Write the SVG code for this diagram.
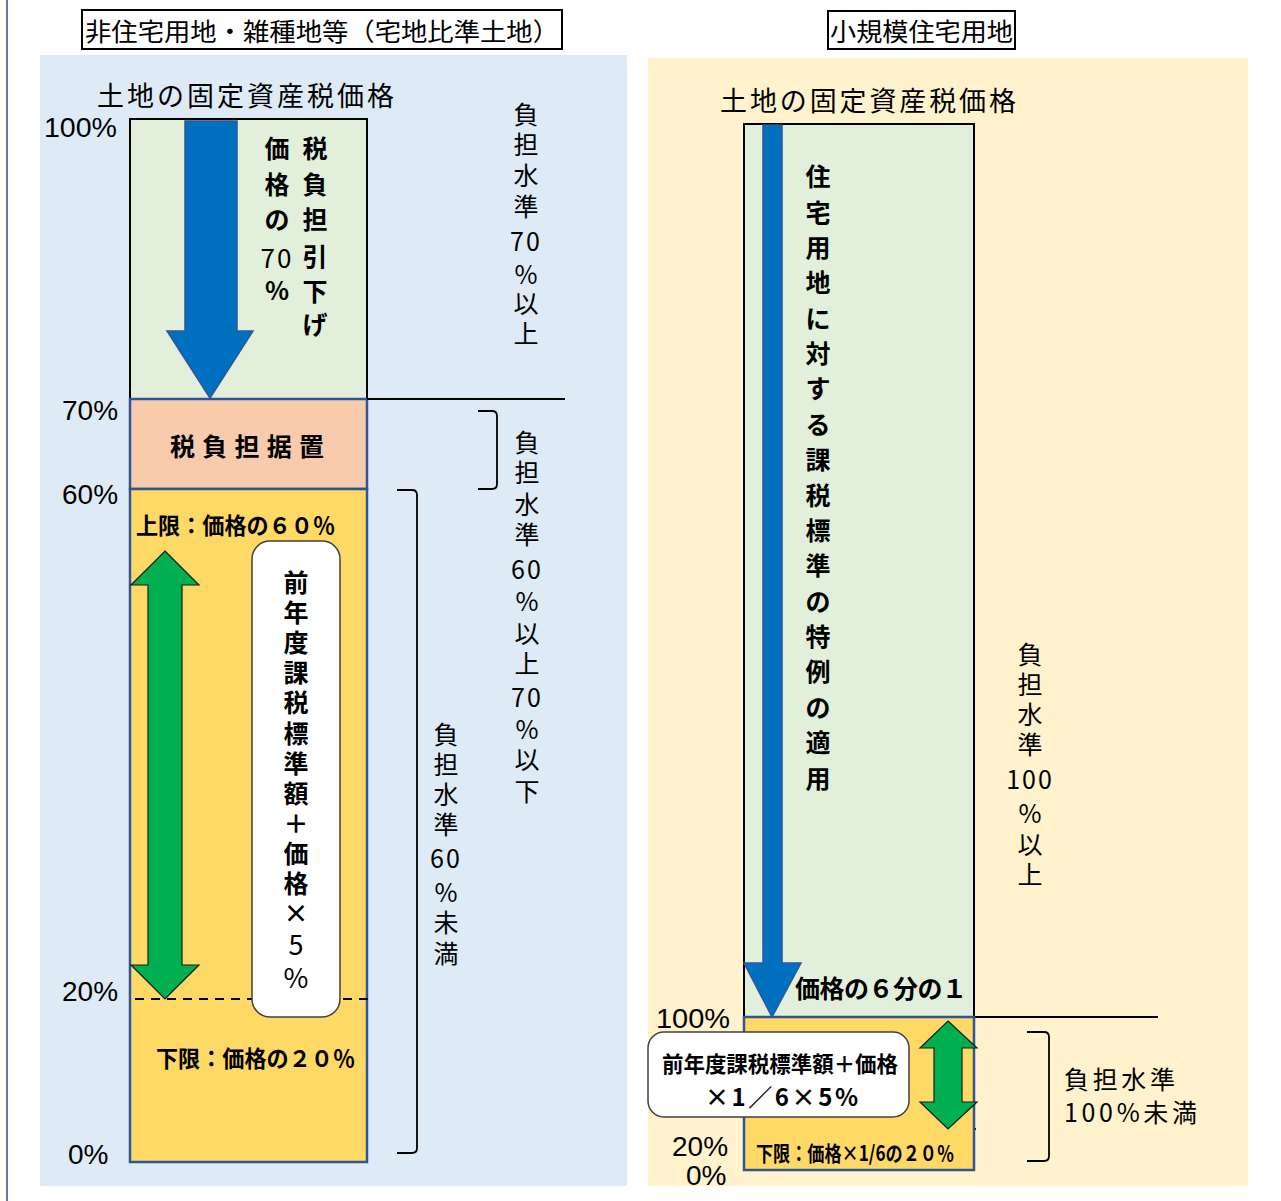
<svg xmlns="http://www.w3.org/2000/svg" width="1281" height="1201" viewBox="0 0 1281 1201">
<style>
.jp{font-family:"Noto Sans CJK JP","Noto Sans",sans-serif;fill:#000;dominant-baseline:central}
.b{font-weight:bold}
.n{font-weight:normal}
.v{font-size:25px;text-anchor:middle}
.pct{font-family:"Liberation Sans",Arial,sans-serif;font-size:28px;fill:#000;dominant-baseline:central}
.ttl{font-size:25px}
.sep{stroke:#000;stroke-width:2;fill:none}
.brk{stroke:#000;stroke-width:1.8;fill:none}
.dash{stroke:#000;stroke-width:2;stroke-dasharray:9 7;fill:none}
.gbox{fill:#E2EFDA;stroke:#000;stroke-width:2}
.ybox{fill:#FFD966;stroke:#2F5597;stroke-width:2.5}
.pbox{fill:#F8CBAD;stroke:#2F5597;stroke-width:2.5}
.wbox{fill:#fff;stroke:#404040;stroke-width:1.5}
.barrow{fill:#0070C0;stroke:#2F5597;stroke-width:1.5}
.garrow{fill:#00B050;stroke:#1a1a1a;stroke-width:1.2}
</style>
<rect x="0" y="0" width="1281" height="1201" fill="#fff"/>
<line x1="7" y1="0" x2="7" y2="1201" stroke="#5B7BAF" stroke-width="2"/>

<g id="left-panel">
<rect x="40" y="55" width="587" height="1131" fill="#DEEBF7"/>
</g>
<g id="right-panel">
<rect x="648" y="58" width="600" height="1128" fill="#FFF2CC"/>
</g>

<g id="left-title">
<rect x="82" y="10" width="480" height="39" fill="#fff" stroke="#000" stroke-width="2"/>
<text class="jp ttl" x="85" y="30" textLength="474" lengthAdjust="spacingAndGlyphs">非住宅用地・雑種地等（宅地比準土地）</text>
</g>
<g id="right-title">
<rect x="828" y="11" width="187" height="38" fill="#fff" stroke="#000" stroke-width="2"/>
<text class="jp ttl" x="830" y="30" textLength="183" lengthAdjust="spacingAndGlyphs">小規模住宅用地</text>
</g>

<g id="left-heading"><text class="jp" x="97" y="94" font-size="27" textLength="297" lengthAdjust="spacing">土地の固定資産税価格</text></g>
<g id="right-heading"><text class="jp" x="720" y="99" font-size="27" textLength="296" lengthAdjust="spacing">土地の固定資産税価格</text></g>

<g id="left-green">
<rect class="gbox" x="130" y="119" width="237" height="280"/>
</g>
<g id="left-pink">
<rect class="pbox" x="130" y="399" width="237" height="90"/>
<text class="jp b" x="170" y="445" font-size="25" textLength="154" lengthAdjust="spacing">税負担据置</text>
</g>
<g id="left-yellow">
<rect class="ybox" x="130" y="489" width="237" height="673"/>
<text class="jp b" x="136" y="524" font-size="23" textLength="199" lengthAdjust="spacingAndGlyphs">上限：価格の６０％</text>
<text class="jp b" x="156" y="1057" font-size="23" textLength="199" lengthAdjust="spacingAndGlyphs">下限：価格の２０％</text>
</g>

<g id="left-blue-arrow">
<polygon class="barrow" points="185,121 237,121 237,331 253,331 210,398 167,331 185,331"/>
<text class="jp b v" x="315"><tspan x="315" y="147">税</tspan><tspan x="315" y="183">負</tspan><tspan x="315" y="218">担</tspan><tspan x="315" y="255">引</tspan><tspan x="315" y="290">下</tspan><tspan x="315" y="323">げ</tspan></text>
<text class="jp b v" x="277"><tspan x="277" y="147">価</tspan><tspan x="277" y="183">格</tspan><tspan x="277" y="218">の</tspan><tspan class="n" x="277" y="256" font-size="26" letter-spacing="2">70</tspan><tspan x="277" y="289">%</tspan></text>
</g>

<g id="connectors">
<line class="sep" x1="367" y1="399" x2="565" y2="399"/>
<line class="sep" x1="974" y1="1017" x2="1158" y2="1017"/>
<path class="brk" d="M478,411 H492 Q497,411 497,416 V484 Q497,489 492,489 H478"/>
<path class="brk" d="M397,490 H412 Q417,490 417,495 V1148 Q417,1153 412,1153 H397"/>
<path class="brk" d="M1027,1032 H1044 Q1049,1032 1049,1037 V1156 Q1049,1161 1044,1161 H1027"/>
<line class="dash" x1="135" y1="999" x2="370" y2="999"/>
<line class="dash" x1="746" y1="1129" x2="976" y2="1129"/>
</g>

<g id="left-green-arrow">
<polygon class="garrow" points="165,551 199,585 182,585 182,965 199,965 165,999 131,965 148,965 148,585 131,585"/>
</g>

<g id="left-white-box">
<rect class="wbox" x="252" y="541" width="88" height="476" rx="18"/>
<text class="jp b v" x="296"><tspan x="296" y="581">前</tspan><tspan x="296" y="611">年</tspan><tspan x="296" y="641">度</tspan><tspan x="296" y="671">課</tspan><tspan x="296" y="701">税</tspan><tspan x="296" y="732">標</tspan><tspan x="296" y="762">準</tspan><tspan x="296" y="792">額</tspan><tspan x="296" y="822">＋</tspan><tspan x="296" y="852">価</tspan><tspan x="296" y="882">格</tspan><tspan x="296" y="912">×</tspan><tspan class="n" x="296" y="943" font-size="27">5</tspan><tspan class="n" x="296" y="976" font-size="27">%</tspan></text>
</g>

<g id="left-labels">
<text class="pct" x="44" y="127" textLength="73" lengthAdjust="spacingAndGlyphs">100%</text>
<text class="pct" x="62" y="410">70%</text>
<text class="pct" x="62" y="494">60%</text>
<text class="pct" x="62" y="991">20%</text>
<text class="pct" x="68" y="1154">0%</text>
</g>

<g id="left-level-70-up">
<text class="jp v" x="526"><tspan x="526" y="113">負</tspan><tspan x="526" y="143">担</tspan><tspan x="526" y="174">水</tspan><tspan x="526" y="205">準</tspan><tspan x="526" y="240" letter-spacing="2">70</tspan><tspan x="526" y="273">%</tspan><tspan x="526" y="302">以</tspan><tspan x="526" y="332">上</tspan></text>
</g>
<g id="left-level-60-70">
<text class="jp v" x="527"><tspan x="527" y="441">負</tspan><tspan x="527" y="471">担</tspan><tspan x="527" y="503">水</tspan><tspan x="527" y="533">準</tspan><tspan x="527" y="568" letter-spacing="2">60</tspan><tspan x="527" y="600">%</tspan><tspan x="527" y="632">以</tspan><tspan x="527" y="662">上</tspan><tspan x="527" y="696" letter-spacing="2">70</tspan><tspan x="527" y="728">%</tspan><tspan x="527" y="758">以</tspan><tspan x="527" y="790">下</tspan></text>
</g>
<g id="left-level-60-under">
<text class="jp v" x="446"><tspan x="446" y="733">負</tspan><tspan x="446" y="763">担</tspan><tspan x="446" y="793">水</tspan><tspan x="446" y="823">準</tspan><tspan x="446" y="857" letter-spacing="2">60</tspan><tspan x="446" y="891">%</tspan><tspan x="446" y="921">未</tspan><tspan x="446" y="952">満</tspan></text>
</g>

<g id="right-green">
<rect class="gbox" x="744" y="124" width="230" height="893"/>
</g>
<g id="right-yellow">
<rect class="ybox" x="744" y="1017" width="230" height="153"/>
<text class="jp b" x="756" y="1152" font-size="21" textLength="198" lengthAdjust="spacingAndGlyphs">下限：価格×1/6の２０％</text>
</g>
<g id="right-blue-arrow">
<polygon class="barrow" points="763,125 782,125 782,963 801,963 772,1017 744,963 763,963"/>
<text class="jp b v" x="818"><tspan x="818" y="175">住</tspan><tspan x="818" y="211">宅</tspan><tspan x="818" y="246">用</tspan><tspan x="818" y="281">地</tspan><tspan x="818" y="317">に</tspan><tspan x="818" y="352">対</tspan><tspan x="818" y="387">す</tspan><tspan x="818" y="423">る</tspan><tspan x="818" y="458">課</tspan><tspan x="818" y="494">税</tspan><tspan x="818" y="529">標</tspan><tspan x="818" y="564">準</tspan><tspan x="818" y="600">の</tspan><tspan x="818" y="635">特</tspan><tspan x="818" y="670">例</tspan><tspan x="818" y="706">の</tspan><tspan x="818" y="741">適</tspan><tspan x="818" y="777">用</tspan></text>
<text class="jp b" x="795" y="987" font-size="25" textLength="172" lengthAdjust="spacing">価格の６分の１</text>
</g>
<g id="right-green-arrow">
<polygon class="garrow" points="948,1021 977,1048 962,1048 962,1102 977,1102 948,1129 920,1102 934,1102 934,1048 920,1048"/>
</g>
<g id="right-white-box">
<rect class="wbox" x="648" y="1032" width="261" height="85" rx="16"/>
<text class="jp b" x="662" y="1062" font-size="22" textLength="236" lengthAdjust="spacingAndGlyphs">前年度課税標準額＋価格</text>
<text class="jp b" x="705" y="1095" font-size="24" textLength="153" lengthAdjust="spacing">×1／6×5%</text>
</g>
<g id="right-labels">
<text class="pct" x="656" y="1018" textLength="74" lengthAdjust="spacingAndGlyphs">100%</text>
<text class="pct" x="672" y="1146">20%</text>
<text class="pct" x="686" y="1175">0%</text>
</g>
<g id="right-level-100-up">
<text class="jp v" x="1030"><tspan x="1030" y="653">負</tspan><tspan x="1030" y="683">担</tspan><tspan x="1030" y="713">水</tspan><tspan x="1030" y="743">準</tspan><tspan x="1030" y="778" letter-spacing="2">100</tspan><tspan x="1030" y="812">%</tspan><tspan x="1030" y="843">以</tspan><tspan x="1030" y="873">上</tspan></text>
</g>
<g id="right-level-100-under">
<text class="jp" x="1064" y="1078" font-size="25" textLength="111" lengthAdjust="spacing">負担水準</text>
<text class="jp" x="1064" y="1111" font-size="25" textLength="133" lengthAdjust="spacing">100%未満</text>
</g>
</svg>
